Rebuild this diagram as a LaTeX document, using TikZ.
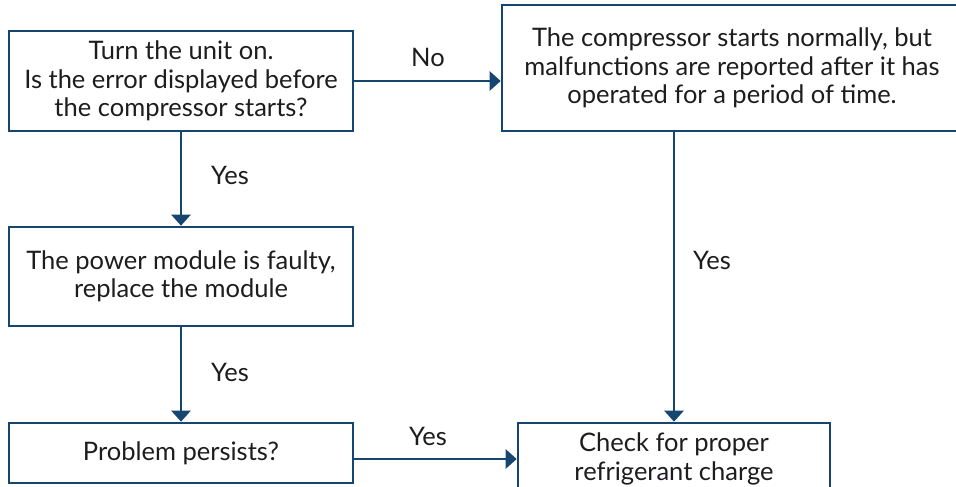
\documentclass[tikz,border=0pt]{standalone}
\usepackage{fontspec}
\setmainfont{Lato}
\usepackage{tikz}
\usetikzlibrary{positioning,arrows.meta}
\definecolor{boxblue}{RGB}{22,70,112}
\definecolor{inkgray}{RGB}{30,28,30}

\begin{document}
\begin{tikzpicture}[x=1pt,y=-1pt,
  box/.style={draw=boxblue, line width=2.6pt, align=center, inner sep=0pt,
    text=inkgray, font=\fontsize{25.5}{28.5}\selectfont},
  flow/.style={draw=boxblue, line width=2.6pt, -{Triangle[width=19pt,length=11pt]}},
  lbl/.style={text=inkgray, font=\fontsize{25.5}{28}\selectfont}]
\useasboundingbox (0,0) rectangle (956,487);
\node[box, minimum width=344pt, minimum height=100pt] (start) at (181,81)
  {Turn the unit on.\\Is the error displayed before\\the compressor starts?};
\node[box, minimum width=460pt, minimum height=126pt] (later) at (732,68)
  {The compressor starts normally, but\\malfunctions are reported after it has\\operated for a period of time.};
\node[box, minimum width=344pt, minimum height=99pt] (module) at (181,276.5)
  {The power module is faulty,\\replace the module};
\node[box, minimum width=344pt, minimum height=60pt] (persist) at (181,453)
  {Problem persists?};
\node[box, minimum width=312pt, minimum height=72pt] (charge) at (674,459)
  {Check for proper\\refrigerant charge};
% connectors
\draw[flow] (start.east) -- (later.west |- start.east);
\draw[flow] (start.south) -- (module.north);
\draw[flow] (module.south) -- (persist.north);
\draw[flow] (later.south -| charge.north) -- (charge.north);
\draw[flow] (persist.east |- charge.west) -- (charge.west);
\node[lbl] (no) at (428,57) {No};
\node[lbl] (yes1) at (230,175) {Yes};
\node[lbl] (yes2) at (230,372) {Yes};
\node[lbl] (yes3) at (712,260) {Yes};
\node[lbl] (yes4) at (428,436) {Yes};
\end{tikzpicture}
\end{document}
